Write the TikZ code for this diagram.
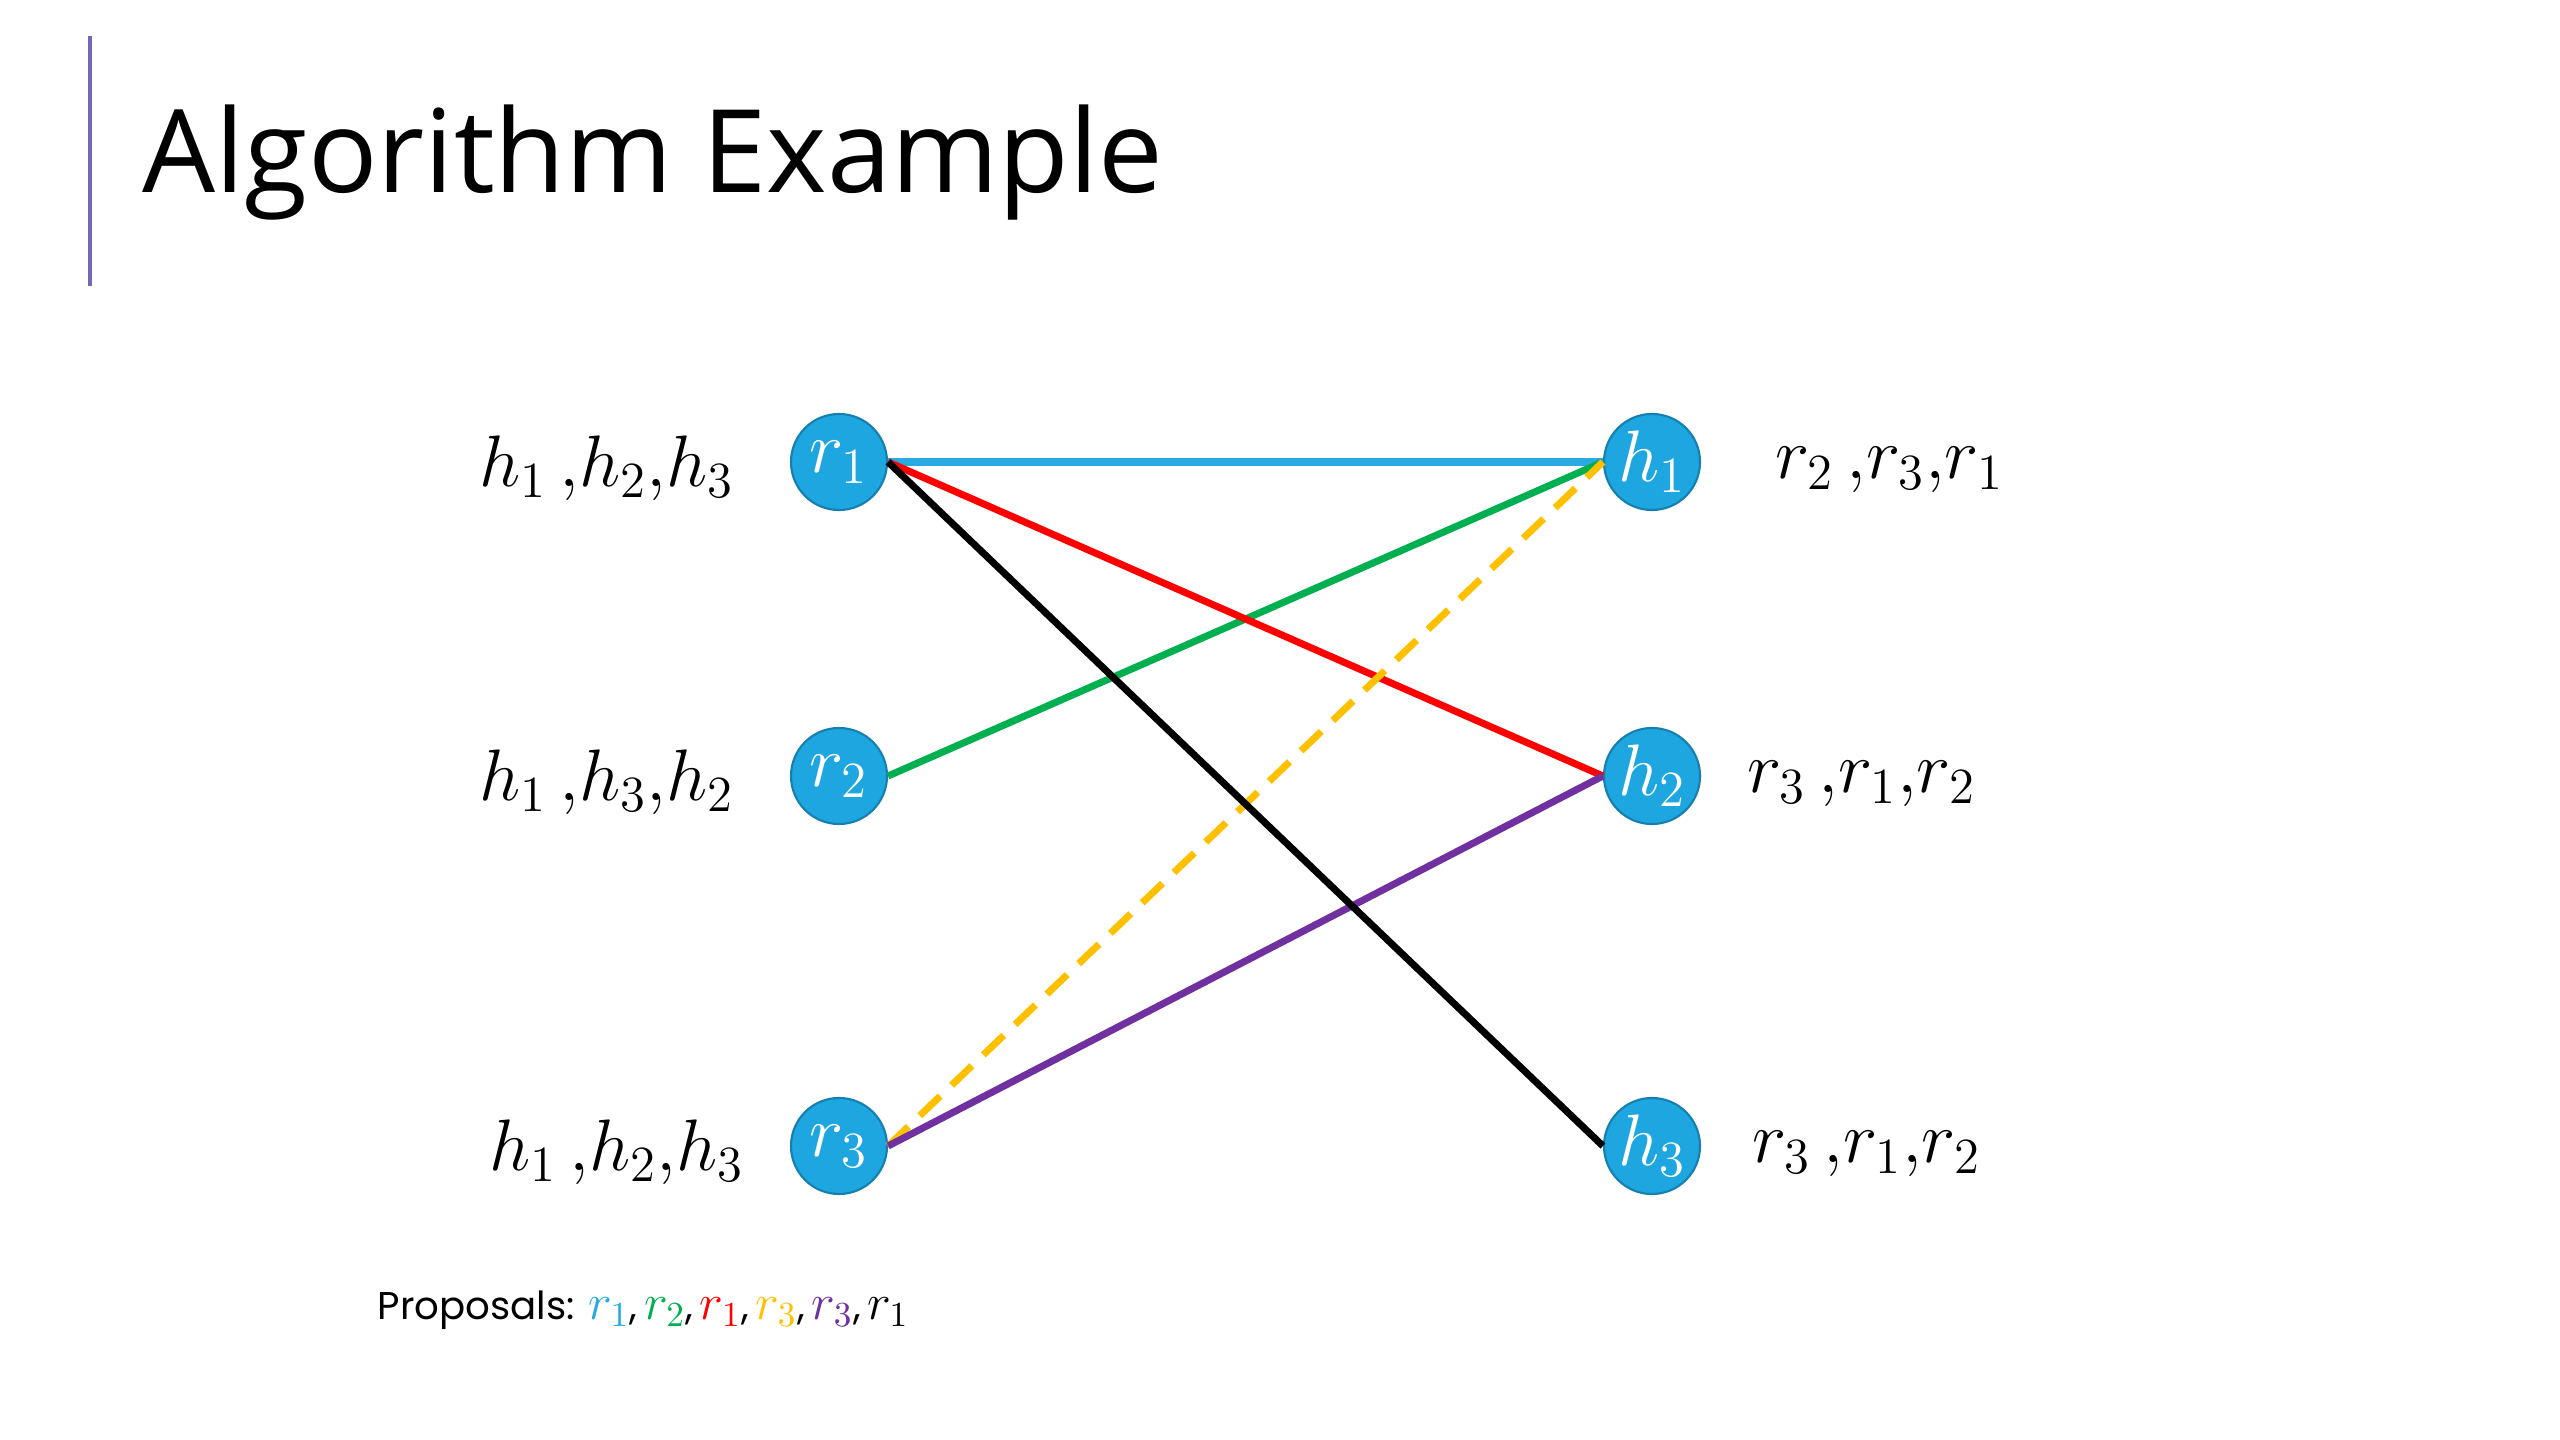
\documentclass[tikz,border=0pt]{standalone}
\usepackage{fontspec}
\setmainfont{Open Sans}
\newfontfamily\propfont{Poppins}
\definecolor{nodefill}{HTML}{1DA6DF}
\definecolor{nodeedge}{HTML}{1580B0}
\definecolor{cblue}{HTML}{29AAE1}
\definecolor{cgreen}{HTML}{00B050}
\definecolor{cred}{HTML}{FF0000}
\definecolor{cyellow}{HTML}{FFC000}
\definecolor{cpurple}{HTML}{7030A0}
\definecolor{barc}{HTML}{7466BA}
\newcommand{\prp}[2]{\textcolor{#1}{{\fontsize{14.5}{17}\selectfont$r_{#2}$}}}
\tikzset{
  vert/.style={circle, fill=nodefill, draw=nodeedge, line width=0.6pt, minimum size=0.96cm, inner sep=0pt, text=white, font=\fontsize{22}{26}\selectfont},
  pref/.style={inner sep=0pt, font=\fontsize{20}{24}\selectfont},
  edge/.style={line width=2pt},
}
\begin{document}
\begin{tikzpicture}[x=0.01cm,y=-0.01cm]
\useasboundingbox (0,0) rectangle (2560,1440);
\fill[white] (0,0) rectangle (2560,1440);
\draw[barc, line width=1pt] (90,36) -- (90,286);
\node[anchor=base west, inner sep=0pt, font=\fontsize{32.8}{38}\selectfont] (title) at (142,193) {Algorithm Example};

\node[vert] (r1) at (839,462) {\makebox[0pt]{$r_1$}};
\node[vert] (r2) at (839,776) {\makebox[0pt]{$r_2$}};
\node[vert] (r3) at (839,1146) {\makebox[0pt]{$r_3$}};
\node[vert] (h1) at (1652,462) {\makebox[0pt]{$h_1$}};
\node[vert] (h2) at (1652,776) {\makebox[0pt]{$h_2$}};
\node[vert] (h3) at (1652,1146) {\makebox[0pt]{$h_3$}};

\draw[edge, cblue] (r1.east) -- (h1.west);
\draw[edge, cgreen] (r2.east) -- (h1.west);
\draw[edge, cred] (r1.east) -- (h2.west);
\draw[edge, cyellow, dash pattern=on 8pt off 4.5pt] (r3.east) -- (h1.west);
\draw[edge, cpurple] (r3.east) -- (h2.west);
\draw[edge, black] (r1.east) -- (h3.west);

\node[pref, anchor=east] (pr1) at (735,468) {$h_1\,{,}h_2{,}h_3$};
\node[pref, anchor=east] (pr2) at (735,782) {$h_1\,{,}h_3{,}h_2$};
\node[pref, anchor=east] (pr3) at (745,1152) {$h_1\,{,}h_2{,}h_3$};
\node[pref, anchor=west] (ph1) at (1775,470) {$r_2\,{,}r_3{,}r_1$};
\node[pref, anchor=west] (ph2) at (1747,784) {$r_3\,{,}r_1{,}r_2$};
\node[pref, anchor=west] (ph3) at (1752,1154) {$r_3\,{,}r_1{,}r_2$};

\node[anchor=base west, inner sep=0pt, font=\propfont\fontsize{11}{13}\selectfont] (prop) at (377,1319)
  {Proposals: \prp{cblue}{1},\,\prp{cgreen}{2},\,\prp{cred}{1},\,\prp{cyellow}{3},\,\prp{cpurple}{3},\,\prp{black}{1}};
\end{tikzpicture}
\end{document}
